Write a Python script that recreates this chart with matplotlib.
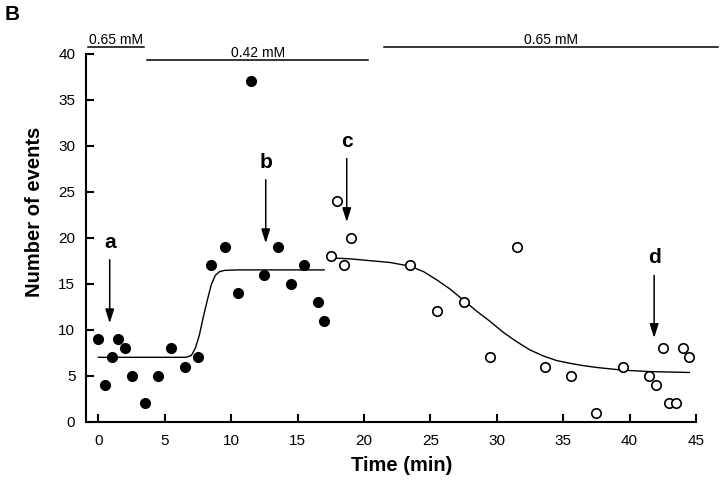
"""Panel B: number of events over time with fitted curves and concentration bars."""
import matplotlib

matplotlib.use("Agg")
import matplotlib.pyplot as plt

plt.rcParams["font.family"] = ["Liberation Sans", "DejaVu Sans"]

# Filled circles (0.65 -> 0.42 mM phase)
filled_t = [0.0, 0.5, 1.0, 1.5, 2.0, 2.5, 3.5, 4.5, 5.5, 6.5, 7.5,
            8.5, 9.5, 10.5, 11.5, 12.5, 13.5, 14.5, 15.5, 16.5, 17.0]
filled_n = [9, 4, 7, 9, 8, 5, 2, 5, 8, 6, 7,
            17, 19, 14, 37, 16, 19, 15, 17, 13, 11]

# Open circles (back to 0.65 mM)
open_t = [17.5, 18.0, 18.5, 19.0, 23.5, 25.5, 27.5, 29.5, 31.5, 33.6,
          35.6, 37.5, 39.5, 41.5, 42.0, 42.5, 43.0, 43.5, 44.0, 44.5]
open_n = [18, 24, 17, 20, 17, 12, 13, 7, 19, 6,
          5, 1, 6, 5, 4, 8, 2, 2, 8, 7]

# Fitted curves
fit1_t = [0.0, 6.6, 7.0, 7.3, 7.6, 7.9, 8.2, 8.5, 8.8, 9.1, 9.5, 10.5, 17.0]
fit1_n = [7.0, 7.0, 7.2, 8.0, 9.4, 11.4, 13.2, 14.9, 15.9, 16.3, 16.45, 16.5, 16.5]

fit2_t = [17.6, 19.0, 20.5, 22.0, 23.5, 24.5, 25.5, 26.5, 27.5, 28.5, 29.5,
          30.5, 31.5, 32.5, 33.5, 34.5, 35.5, 36.5, 37.5, 39.5, 41.5, 44.5]
fit2_n = [17.8, 17.7, 17.5, 17.3, 16.9, 16.3, 15.4, 14.4, 13.2, 12.0, 10.9,
          9.7, 8.7, 7.8, 7.15, 6.65, 6.35, 6.1, 5.9, 5.6, 5.45, 5.35]

# Arrow annotations: label, x, arrow top, arrow tip
arrow_labels = ["a", "b", "c", "d"]
arrow_x = [0.85, 12.6, 18.7, 41.85]
arrow_top = [17.6, 26.3, 28.6, 15.9]
arrow_tip = [10.7, 19.4, 21.7, 9.1]

# Concentration bars above the plot
conc_labels = ["0.65 mM", "0.42 mM", "0.65 mM"]
conc_start = [-0.75, 3.64, 21.5]
conc_end = [3.44, 20.33, 46.67]
conc_level = [40.76, 39.3, 40.7]

fig = plt.figure(figsize=(7.2, 4.84), dpi=100)
ax = fig.add_axes([0.1201, 0.1287, 0.8465, 0.7603])

ax.plot(fit1_t, fit1_n, color="black", lw=1.0, zorder=2)
ax.plot(fit2_t, fit2_n, color="black", lw=1.0, zorder=2)
ax.plot(filled_t, filled_n, "o", color="black", ms=7, zorder=3, clip_on=False)
ax.plot(open_t, open_n, "o", mfc="white", mec="black", mew=1.2, ms=6.8,
        zorder=3, clip_on=False)

for lab, x, top, tip in zip(arrow_labels, arrow_x, arrow_top, arrow_tip):
    ax.annotate("", xy=(x, tip), xytext=(x, top),
                arrowprops=dict(arrowstyle="-|>,head_length=0.7,head_width=0.22",
                                mutation_scale=12, color="black", lw=1.1,
                                shrinkA=0, shrinkB=0))
    ax.text(x, top + 1.3, lab, ha="center", va="baseline",
            fontsize=15, fontweight="bold")

for lab, x0, x1, lev in zip(conc_labels, conc_start, conc_end, conc_level):
    ax.plot([x0, x1], [lev, lev], color="black", lw=1.1, clip_on=False)
    ax.text((x0 + x1) / 2, lev + 0.35, lab, ha="center", va="baseline",
            fontsize=10)

ax.set_xlim(-0.9, 45)
ax.set_ylim(0, 40)
ax.set_xticks(range(0, 46, 5))
ax.set_yticks(range(0, 41, 5))
for side in ("top", "right"):
    ax.spines[side].set_visible(False)
for side in ("left", "bottom"):
    ax.spines[side].set_linewidth(1.5)
ax.tick_params(direction="in", length=6, width=1.5, labelsize=11)
ax.tick_params(axis="x", pad=9)
ax.tick_params(axis="y", pad=8)

ax.set_xlabel("Time (min)", fontsize=14.5, fontweight="bold", va="center")
ax.xaxis.set_label_coords(0.518, -0.12)
ax.set_ylabel("Number of events", fontsize=14.5, fontweight="bold", va="center")
ax.yaxis.set_label_coords(-0.0845, 0.57)

fig.text(5 / 720, 1 - 14.5 / 484, "B", fontsize=15, fontweight="bold",
         ha="left", va="center")

fig.savefig("out.png", dpi=100)
